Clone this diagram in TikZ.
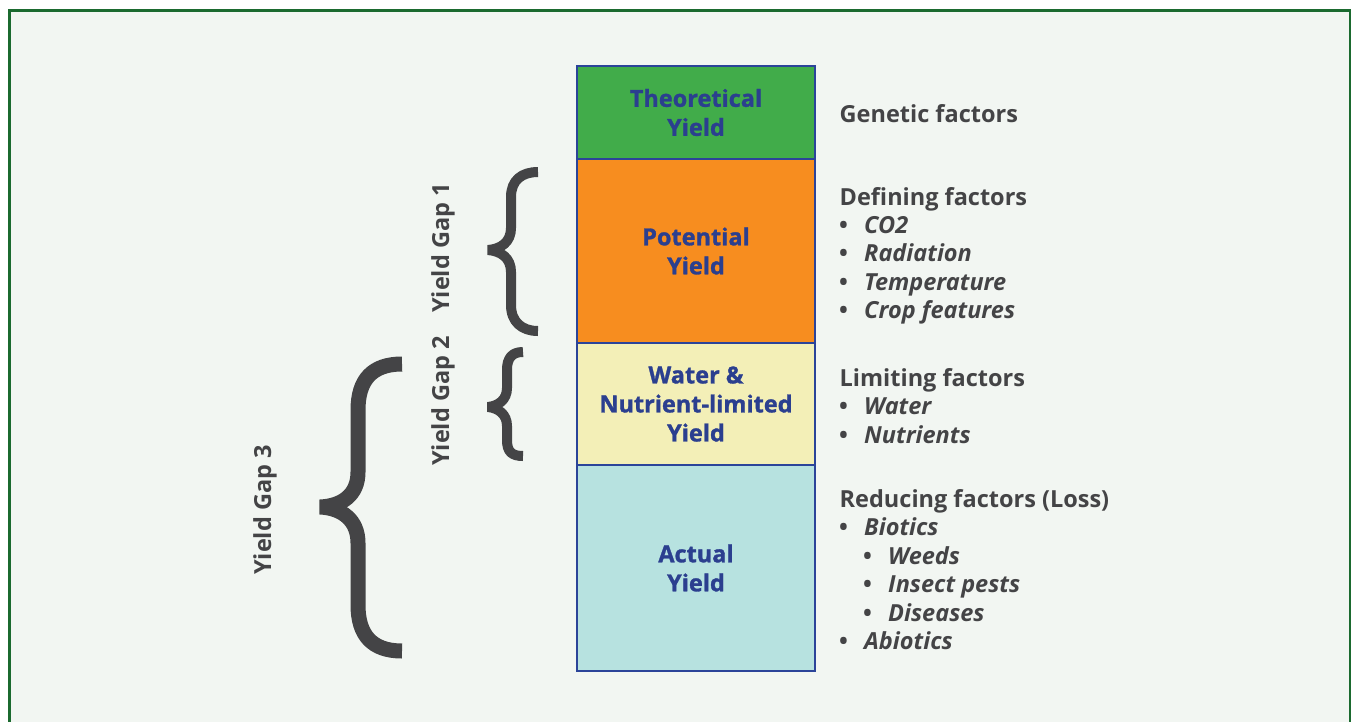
\documentclass[tikz,border=0pt]{standalone}
\usepackage{fontspec}
\setmainfont{Open Sans}
\newfontfamily\heavyfont{Open Sans Bold}[FakeBold=1.2]
\usetikzlibrary{positioning}
\definecolor{FrameGreen}{HTML}{1B6A2F}
\definecolor{PaperBg}{HTML}{F2F6F2}
\definecolor{TheoGreen}{HTML}{41AC4A}
\definecolor{PotOrange}{HTML}{F78D1F}
\definecolor{WaterYellow}{HTML}{F3EFB7}
\definecolor{ActualTeal}{HTML}{B7E2E0}
\definecolor{BoxBlue}{HTML}{2B4499}
\definecolor{LabelBlue}{HTML}{2B3F8F}
\definecolor{NiceGray}{HTML}{444446}

\tikzset{
  bigfont/.style={font=\bfseries\fontsize{23.5}{29}\selectfont},
  yieldbox/.style={draw=BoxBlue, line width=2.8pt, minimum width=238pt,
    outer sep=0pt, inner sep=0pt, align=center, text=LabelBlue,
    font=\heavyfont\fontsize{23.5}{29}\selectfont},
  factorhead/.style={anchor=base west, inner sep=0pt, text=NiceGray, bigfont},
  factoritem/.style={factorhead},
  gaplabel/.style={rotate=90, inner sep=0pt, text=NiceGray, bigfont},
  gapbrace/.style={draw=NiceGray, line cap=butt, line join=bevel},
}

\begin{document}
\begin{tikzpicture}[x=1pt, y=-1pt]
  \useasboundingbox (0,0) rectangle (1351,721);
  % Frame
  \draw[FrameGreen, line width=3pt, fill=PaperBg] (9.5,10.5) rectangle (1350.5,740);
  % Yield column
  \node[yieldbox, fill=TheoGreen, minimum height=93pt, anchor=north]
    (theoretical) at (696,66) {Theoretical\\Yield};
  \node[yieldbox, fill=PotOrange, minimum height=184pt, below=0pt of theoretical]
    (potential) {Potential\\Yield};
  \node[yieldbox, fill=WaterYellow, minimum height=122pt, below=0pt of potential]
    (limited) {Water \&\\Nutrient-limited\\Yield};
  \node[yieldbox, fill=ActualTeal, minimum height=206pt, below=0pt of limited]
    (actual) {Actual\\Yield};
  % Factors
  \node[factorhead] (genetic) at (839.5,122) {Genetic factors};
  \node[factorhead] (defining) at (839.5,205) {Defining factors};
  \foreach \txt [count=\i] in {CO2,Radiation,Temperature,Crop features}
    \node[factoritem] (def\i) at (839,205+28.4*\i)
      {\makebox[25pt][l]{\textbullet}\textit{\txt}};
  \node[factorhead] (limiting) at (839.5,386) {Limiting factors};
  \foreach \txt [count=\i] in {Water,Nutrients}
    \node[factoritem] (lim\i) at (839,386+28.6*\i)
      {\makebox[25pt][l]{\textbullet}\textit{\txt}};
  \node[factorhead] (reducing) at (839.5,507) {Reducing factors (Loss)};
  \foreach \lvl/\txt [count=\i] in {0/Biotics,1/Weeds,1/Insect pests,1/Diseases,0/Abiotics}
    \node[factoritem] (red\i) at (839+24*\lvl,507+28.5*\i)
      {\makebox[25pt][l]{\textbullet}\textit{\txt}};
  % Gap labels
  \node[gaplabel] (gapone) at (443,248) {Yield Gap 1};
  \node[gaplabel] (gaptwo) at (443,401) {Yield Gap 2};
  \node[gaplabel] (gapthree) at (265,510) {Yield Gap 3};
  % Braces
  \draw[gapbrace, line width=10pt] (538,172) .. controls (522,172) and (511,180) .. (511,197)
    -- (511,228) .. controls (511,242) and (501,249) .. (488,250)
    .. controls (501,251) and (511,258) .. (511,272)
    -- (511,305) .. controls (511,322) and (522,331) .. (538,331);
  \draw[gapbrace, line width=10pt] (523,352) .. controls (512,352) and (507,358) .. (507,370)
    -- (507,388) .. controls (507,400) and (498,406) .. (488,407)
    .. controls (498,408) and (507,414) .. (507,426)
    -- (507,440) .. controls (507,452) and (512,456) .. (523,456);
  \draw[gapbrace, line width=15pt] (402,364) .. controls (372,364) and (358,380) .. (358,410)
    -- (358,472) .. controls (358,495) and (342,506) .. (320,507)
    .. controls (342,508) and (358,520) .. (358,543)
    -- (358,605) .. controls (358,635) and (372,651) .. (402,651);
\end{tikzpicture}
\end{document}
